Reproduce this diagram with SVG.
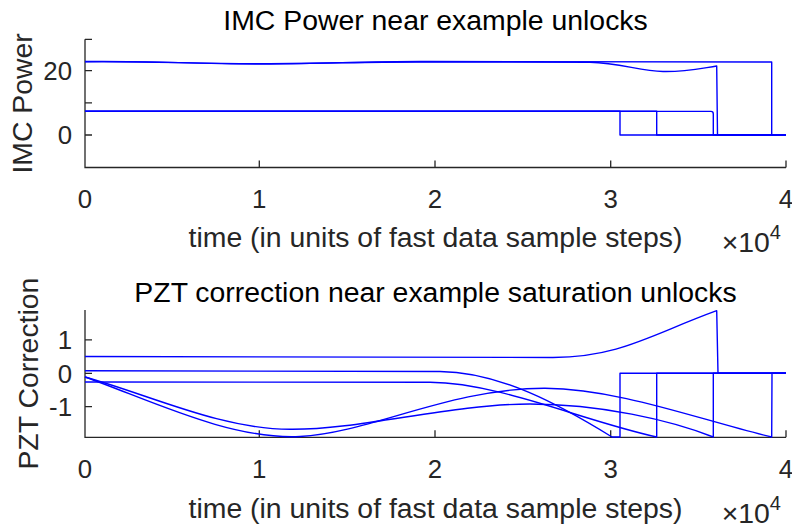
<svg xmlns="http://www.w3.org/2000/svg" width="792" height="529" viewBox="0 0 792 529">
<style>
.ax{stroke:#262626;stroke-width:1.3;fill:none}
.d{stroke:#0000ff;stroke-width:1.4;fill:none;stroke-linejoin:round}
.t{font-family:"Liberation Sans",Arial,sans-serif;fill:#262626}
.tk{font-size:25.8px;text-anchor:middle}
.yk{font-size:25.8px;text-anchor:end}
.lb{font-size:28.4px;text-anchor:middle}
.ti{font-size:28.4px;text-anchor:middle;fill:#000}
</style>
<rect width="792" height="529" fill="#fff"/>
<g id="top-axes">
<path class="ax" d="M85,39.3V167.5H786M85,39.3h7M85,70.7h7M85,102.8h7M85,135h7M259.3,167.5v-7M435,167.5v-7M610.7,167.5v-7M786,167.5v-7"/>
<g class="t">
<text class="ti" x="435.5" y="29.5">IMC Power near example unlocks</text>
<text class="tk" x="85" y="208">0</text>
<text class="tk" x="259.3" y="208">1</text>
<text class="tk" x="435" y="208">2</text>
<text class="tk" x="610.7" y="208">3</text>
<text class="tk" x="786" y="208">4</text>
<text class="yk" x="72" y="80">20</text>
<text class="yk" x="72" y="144.2">0</text>
<text class="lb" x="435.5" y="247">time (in units of fast data sample steps)</text>
<text x="721.7" y="251.5" style="font-size:28.4px">×10<tspan dy="-13" style="font-size:20px">4</tspan></text>
<text class="lb" transform="translate(32,103.4) rotate(-90)">IMC Power</text>
</g>
</g>
<g id="top-data">
<path class="d" d="M85,111.2H620V135H786"/>
<path class="d" d="M85,111.3H656.7V135H786"/>
<path class="d" d="M85,111.4H711Q713.3,111.4 713.3,114V135H786"/>
<path class="d" d="M85,61.5C150,60.5 200,64.5 270,64C330,63.5 380,61 430,61.5L771.7,62V135H786"/>
<path class="d" d="M85,61.8C150,61 200,64 270,63.6C330,63.3 380,61.5 430,62L590,62.3C620,63 640,71 663,71.5C685,72 700,68.5 716.7,66L717.5,135H786"/>
</g>
<g id="bottom-axes">
<path class="ax" d="M85,310V437.3H786M85,339.9h7M85,373.3h7M85,406.7h7M259.3,437.3v-7M435,437.3v-7M610.7,437.3v-7M786,437.3v-7"/>
<g class="t">
<text class="ti" x="435.5" y="301.5">PZT correction near example saturation unlocks</text>
<text class="tk" x="85" y="478">0</text>
<text class="tk" x="259.3" y="478">1</text>
<text class="tk" x="435" y="478">2</text>
<text class="tk" x="610.7" y="478">3</text>
<text class="tk" x="786" y="478">4</text>
<text class="yk" x="72" y="349.1">1</text>
<text class="yk" x="72" y="382.5">0</text>
<text class="yk" x="72" y="415.9">-1</text>
<text class="lb" x="435.5" y="518">time (in units of fast data sample steps)</text>
<text x="721.7" y="522.5" style="font-size:28.4px">×10<tspan dy="-13" style="font-size:20px">4</tspan></text>
<text class="lb" transform="translate(38,373.6) rotate(-90)">PZT Correction</text>
</g>
</g>
<g id="bottom-data">
<path class="d" d="M85,356.5L553,357.5C620,357 650,335 716.7,310.7L718,373.3H786"/>
<path class="d" d="M85,370.7L440,371.5C500,372 560,405 612,437L620,437V373.3H786"/>
<path class="d" d="M85,382L430,382.3C500,383 580,420 656.7,437V373.3H786"/>
<path class="d" d="M85,377C150,400 230,440 300,436.5C370,433 450,388 545,388.3C620,389 700,420 771.7,437L772,373.3H786"/>
<path class="d" d="M85,377C150,395 220,429 290,429.3C360,430 450,404 530,404C600,404 670,420 713.3,437V373.3H786"/>
</g>
</svg>
